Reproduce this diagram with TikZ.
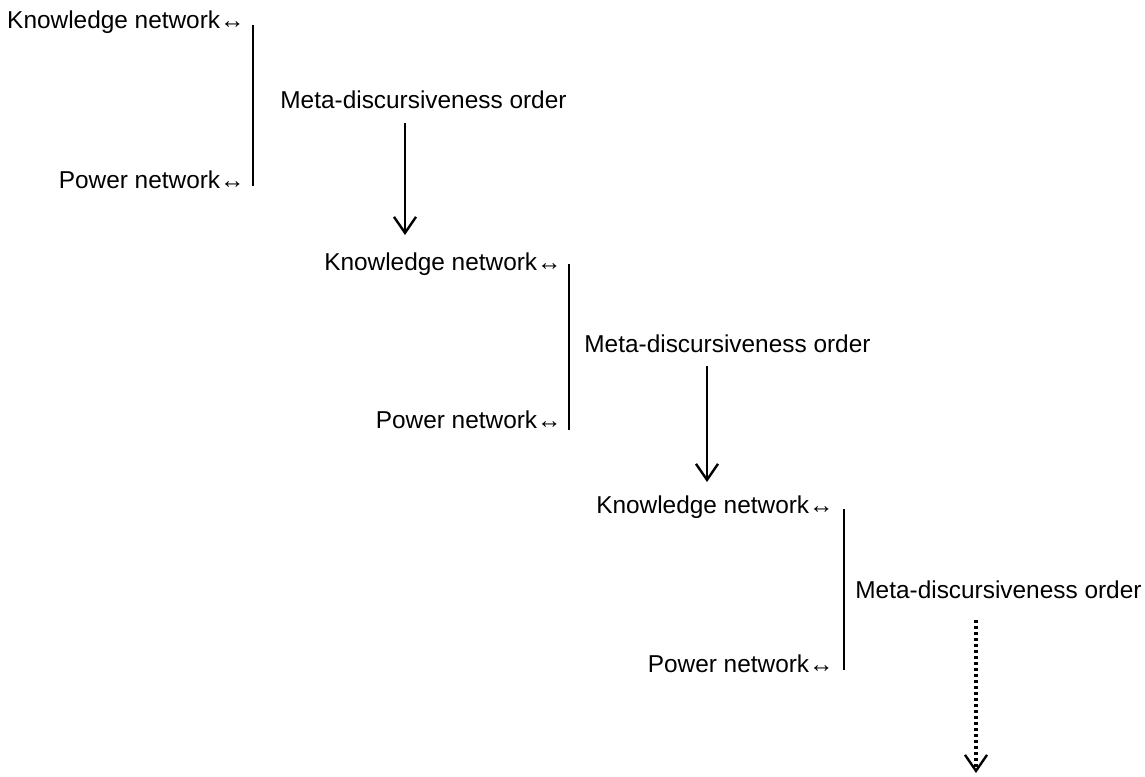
\documentclass[tikz,border=0pt]{standalone}
\usepackage{fontspec}
\setmainfont{Liberation Sans}
\usetikzlibrary{arrows.meta}

\begin{document}
\begin{tikzpicture}[
        x=0.5pt, y=-0.5pt,
        txt/.style={font=\fontsize{12.2}{14}\selectfont, inner sep=0pt},
        netlabel/.style={txt, anchor=base east},
        orderlabel/.style={txt, anchor=base west},
        bar/.style={line width=0.8pt},
        arrow/.style={line width=1.2pt, -{Straight Barb[length=8pt, width=11pt, line width=1.2pt]}},
        dotarrow/.style={arrow, line width=1.6pt, dash pattern=on 1.6pt off 1.4pt}
    ]
    \useasboundingbox (0,0) rectangle (1145,776);

    % Level 1
    \node [netlabel] (know1) at (245,28) {Knowledge network↔};
    \node [netlabel] (power1) at (245,188) {Power network↔};
    \node [orderlabel] (meta1) at (280,108) {Meta-discursiveness order};
    \coordinate (bar1top) at (253,25);
    \coordinate (bar1bot) at (253,186);
    \coordinate (arr1top) at (405,123);
    \coordinate (arr1bot) at (405,235);

    % Level 2
    \node [netlabel] (know2) at (562,270) {Knowledge network↔};
    \node [netlabel] (power2) at (562,428) {Power network↔};
    \node [orderlabel] (meta2) at (584,352) {Meta-discursiveness order};
    \coordinate (bar2top) at (569,264);
    \coordinate (bar2bot) at (569,430);
    \coordinate (arr2top) at (707,366);
    \coordinate (arr2bot) at (707,482);

    % Level 3
    \node [netlabel] (know3) at (834,513) {Knowledge network↔};
    \node [netlabel] (power3) at (834,672) {Power network↔};
    \node [orderlabel] (meta3) at (855,598) {Meta-discursiveness order};
    \coordinate (bar3top) at (844,509);
    \coordinate (bar3bot) at (844,670);
    \coordinate (arr3top) at (976,620);
    \coordinate (arr3bot) at (976,773);

    % Lines and arrows
    \draw [bar] (bar1top) -- (bar1bot);
    \draw [bar] (bar2top) -- (bar2bot);
    \draw [bar] (bar3top) -- (bar3bot);
    \draw [arrow] (arr1top) -- (arr1bot);
    \draw [arrow] (arr2top) -- (arr2bot);
    \draw [dotarrow] (arr3top) -- (arr3bot);

\end{tikzpicture}
\end{document}
